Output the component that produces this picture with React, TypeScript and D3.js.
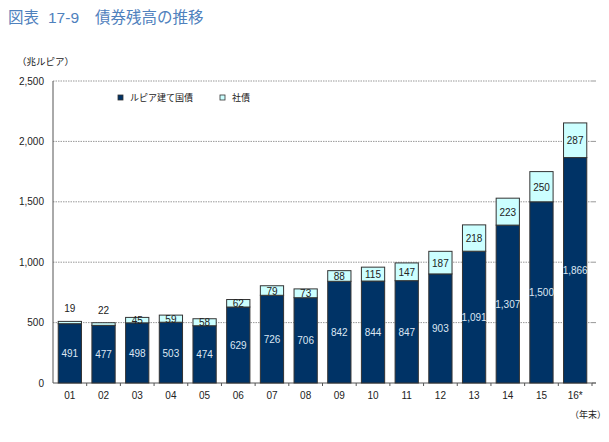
import React from "react";
import * as d3 from "d3";

const years = ["01","02","03","04","05","06","07","08","09","10","11","12","13","14","15","16*"];
const govBonds = [491,477,498,503,474,629,726,706,842,844,847,903,1091,1307,1500,1866];
const corpBonds = [19,22,45,59,58,62,79,73,88,115,147,187,218,223,250,287];
const yTicks = [0,500,1000,1500,2000,2500];

const W = 609, H = 442;
const left = 53, right = 592, top = 81, bottom = 383;
const FONT = "'Liberation Sans', Arial, 'Noto Sans CJK JP', sans-serif";
const JFONT = "'Noto Sans CJK JP', sans-serif";

export default function App() {
  const x = d3.scaleBand<string>().domain(years).range([left, right]).paddingInner(0.31).paddingOuter(0.155);
  const y = d3.scaleLinear().domain([0, 2500]).range([bottom, top]);
  const fmt = d3.format(",");
  const step = x.step();
  return (
    <svg width={W} height={H} style={{ position: "absolute", left: 0, top: 0, background: "#fff" }}>
      <g fontFamily={JFONT} fontSize={15.5} fill="#4f81bd">
        <text x={8} y={23}>図表</text>
        <text x={48} y={23} fontFamily={FONT}>17-9</text>
        <text x={95} y={23}>債券残高の推移</text>
      </g>
      <text x={17} y={65} fontFamily={JFONT} fontSize={9.5} fill="#222">（兆ルピア）</text>
      {yTicks.map(t => (
        <g key={t}>
          {t > 0 && <line x1={left} x2={right} y1={y(t)} y2={y(t)} stroke="#999" strokeDasharray="1.5,1" strokeWidth={1} />}
          <line x1={right} x2={right + 4} y1={y(t)} y2={y(t)} stroke="#999" />
          <text x={44} y={y(t) + 3.5} textAnchor="end" fontFamily={FONT} fontSize={10} fill="#222">{fmt(t)}</text>
        </g>
      ))}
      <line x1={left} x2={left} y1={top} y2={bottom} stroke="#555" />
      <line x1={left} x2={right + 4} y1={bottom} y2={bottom} stroke="#555" />
      {years.map((yr, i) => (
        <line key={"tk" + i} x1={left + step * (i + 1)} x2={left + step * (i + 1)} y1={bottom} y2={bottom + 3} stroke="#555" />
      ))}
      {years.map((yr, i) => {
        const bx = x(yr)!;
        const bw = x.bandwidth();
        const g = govBonds[i], c = corpBonds[i];
        return (
          <g key={yr}>
            <rect x={bx} y={y(g)} width={bw} height={bottom - y(g)} fill="#003366" stroke="#333" strokeWidth={1} />
            <rect x={bx} y={y(g + c)} width={bw} height={y(g) - y(g + c)} fill="#ccffff" stroke="#333" strokeWidth={1} />
            <text x={bx + bw / 2} y={(y(g) + bottom) / 2 + 4} textAnchor="middle" fontFamily={FONT} fontSize={10} fill="#dce6f2">{fmt(g)}</text>
            <text x={bx + bw / 2} y={i < 2 ? y(g + c) - 9 : (y(g) + y(g + c)) / 2 + 4} textAnchor="middle" fontFamily={FONT} fontSize={10} fill="#222">{fmt(c)}</text>
            <text x={bx + bw / 2} y={bottom + 16} textAnchor="middle" fontFamily={FONT} fontSize={10} fill="#222">{yr}</text>
          </g>
        );
      })}
      <rect x={118} y={95} width={5} height={5} fill="#003366" stroke="#333" strokeWidth={0.8} />
      <text x={130} y={101} fontFamily={JFONT} fontSize={9} fill="#222">ルピア建て国債</text>
      <rect x={220} y={95} width={5} height={5} fill="#ccffff" stroke="#333" strokeWidth={0.8} />
      <text x={232} y={101} fontFamily={JFONT} fontSize={9} fill="#222">社債</text>
      <text x={570} y={418} fontFamily={JFONT} fontSize={9} fill="#222">（年末）</text>
    </svg>
  );
}
